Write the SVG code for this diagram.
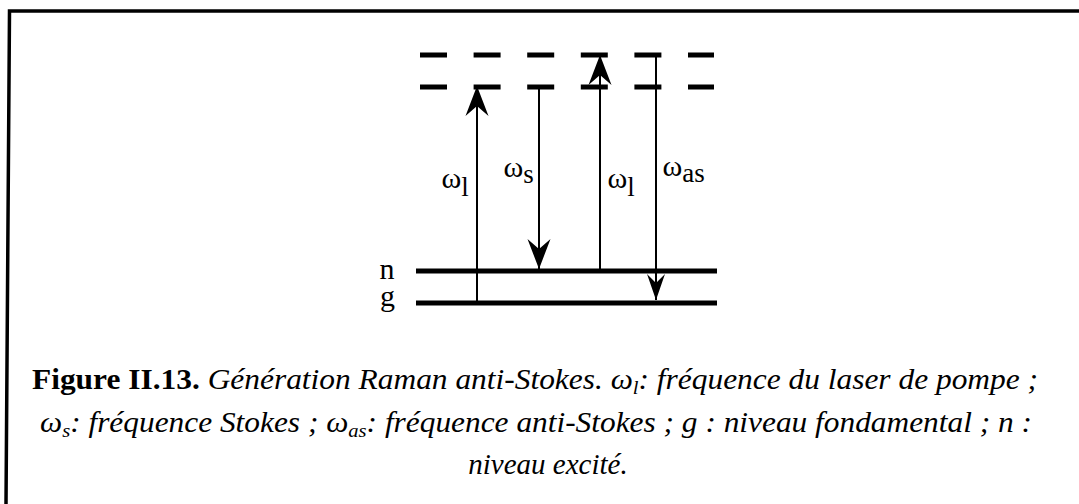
<svg xmlns="http://www.w3.org/2000/svg" width="1079" height="504" viewBox="0 0 1079 504">
<style>
.lvl{stroke:#000;stroke-width:5;fill:none}
.dash{stroke:#000;stroke-width:5;fill:none;stroke-dasharray:27 26.6}
.tr{stroke:#000;stroke-width:2;fill:none}
.lab{font-family:"Liberation Serif","Times New Roman",serif;font-size:30px;fill:#000}
.cap{font-family:"Liberation Serif","Times New Roman",serif;font-size:29px;fill:#000;font-style:italic}
.b{font-weight:bold;font-style:normal}
</style>
<defs>
<marker id="ah" viewBox="-32 -13 34 26" markerWidth="34" markerHeight="26" refX="0" refY="0" orient="auto" markerUnits="userSpaceOnUse">
<path d="M0,0 L-30,-11.5 L-20,0 L-30,11.5 Z" fill="#000"/>
</marker>
<marker id="ahs" viewBox="-32 -13 34 26" markerWidth="34" markerHeight="26" refX="0" refY="0" orient="auto" markerUnits="userSpaceOnUse">
<path d="M0,0 L-26,-9 L-17,0 L-26,9 Z" fill="#000"/>
</marker>
</defs>
<path d="M1079,11 H9.5 L6,504" fill="none" stroke="#000" stroke-width="3.5"/>
<g id="virtual-levels">
<line class="dash" x1="420" y1="55" x2="714" y2="55"/>
<line class="dash" x1="420" y1="87" x2="714" y2="87"/>
</g>
<g id="level-n">
<line class="lvl" x1="416" y1="271" x2="717" y2="271"/>
<text class="lab" x="379.5" y="279" font-size="29">n</text>
</g>
<g id="level-g">
<line class="lvl" x1="416" y1="303" x2="717" y2="303"/>
<text class="lab" x="380" y="306" font-size="29">g</text>
</g>
<g id="connectors">
<line class="tr" x1="477" y1="301" x2="477" y2="86" marker-end="url(#ah)"/>
<line class="tr" x1="539" y1="87" x2="539" y2="269" marker-end="url(#ah)"/>
<line class="tr" x1="600" y1="271" x2="600" y2="55" marker-end="url(#ah)"/>
<line class="tr" x1="656" y1="55" x2="656" y2="300" marker-end="url(#ahs)"/>
</g>
<g id="labels">
<text class="lab" x="441.5" y="188">ω<tspan font-size="27" dy="8">l</tspan></text>
<text class="lab" x="503.5" y="177">ω<tspan font-size="27" dy="6">s</tspan></text>
<text class="lab" x="607.5" y="188">ω<tspan font-size="27" dy="8">l</tspan></text>
<text class="lab" x="662.5" y="176">ω<tspan font-size="27" dy="6">as</tspan></text>
</g>
<g id="caption">
<text class="cap" x="535" y="389" text-anchor="middle" textLength="1006" lengthAdjust="spacingAndGlyphs"><tspan class="b">Figure II.13.</tspan> Génération Raman anti-Stokes. ω<tspan font-size="19" dy="5">l</tspan><tspan dy="-5">: fréquence du laser de pompe ;</tspan></text>
<text class="cap" x="536" y="432" text-anchor="middle" textLength="992" lengthAdjust="spacingAndGlyphs">ω<tspan font-size="19" dy="5">s</tspan><tspan dy="-5">: fréquence Stokes ; ω</tspan><tspan font-size="19" dy="5">as</tspan><tspan dy="-5">: fréquence anti-Stokes ; g : niveau fondamental ; n :</tspan></text>
<text class="cap" x="548" y="474" text-anchor="middle">niveau excité.</text>
</g>
</svg>
